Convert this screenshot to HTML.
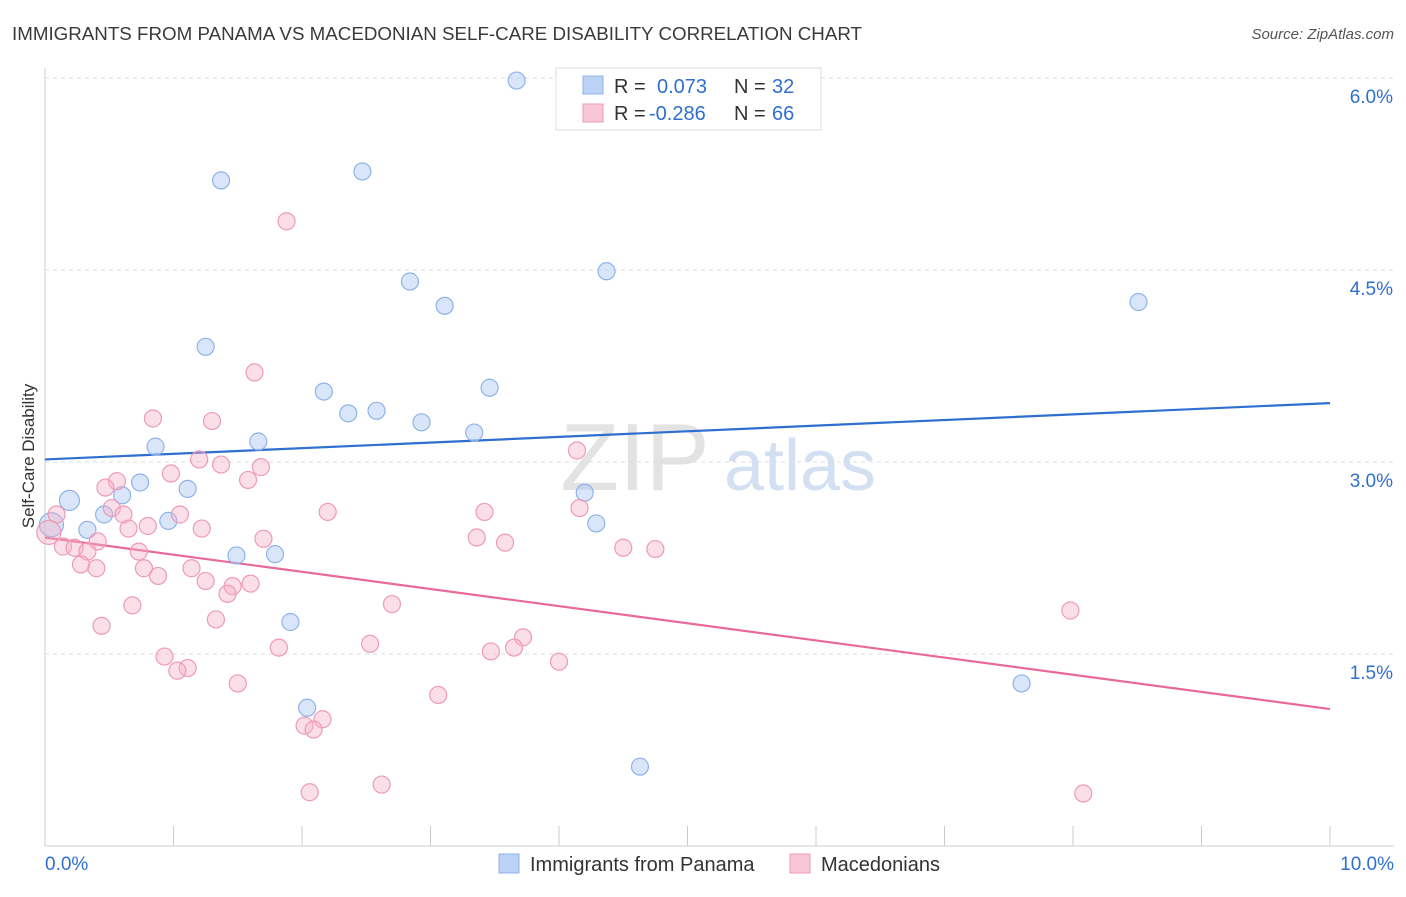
<!DOCTYPE html>
<html><head><meta charset="utf-8"><style>
body{margin:0;background:#fff;font-family:"Liberation Sans",sans-serif}
svg text{font-family:"Liberation Sans",sans-serif}
</style></head><body>
<svg id="c" width="1406" height="892" viewBox="0 0 1406 892">
<text x="12" y="40" font-size="18" fill="#3a3a3a" textLength="850" lengthAdjust="spacingAndGlyphs">IMMIGRANTS FROM PANAMA VS MACEDONIAN SELF-CARE DISABILITY CORRELATION CHART</text>
<text x="1394" y="39" font-size="15" fill="#555" text-anchor="end" font-style="italic">Source: ZipAtlas.com</text>
<g><text x="635" y="490" font-size="96" fill="#ddd" text-anchor="middle" font-family="Liberation Serif" opacity="0.8">ZIP</text><text x="800" y="490" font-size="72" fill="#c9d9f0" text-anchor="middle" opacity="0.8">atlas</text></g>
<text transform="translate(34,456) rotate(-90)" font-size="17" fill="#333" text-anchor="middle">Self-Care Disability</text>
<g id="grid"></g><g id="axes"></g><g id="trend"></g><g id="pts"></g>
<g>
<rect x="556" y="68" width="265" height="62" fill="#fff" stroke="#ddd"/>
<rect x="583" y="76" width="20" height="18" fill="#bcd3f5" stroke="#8fb3e8"/>
<text x="614" y="93" font-size="20" fill="#333">R = <tspan x="657" fill="#2f6fd0">0.073</tspan><tspan x="734">N = </tspan><tspan x="772" fill="#2f6fd0">32</tspan></text>
<rect x="583" y="104" width="20" height="18" fill="#f8c7d6" stroke="#ee9ab8"/>
<text x="614" y="120" font-size="20" fill="#333">R = <tspan x="649" fill="#2f6fd0">-0.286</tspan><tspan x="734">N = </tspan><tspan x="772" fill="#2f6fd0">66</tspan></text>
</g>
<g>
<rect x="499" y="854" width="20" height="19" fill="#bcd3f5" stroke="#8fb3e8"/>
<text x="530" y="871" font-size="20" fill="#333">Immigrants from Panama</text>
<rect x="790" y="854" width="20" height="19" fill="#f8c7d6" stroke="#ee9ab8"/>
<text x="821" y="871" font-size="20" fill="#333">Macedonians</text>
</g>
</svg>
<script>
const yTicks=[1.5,3.0,4.5,6.0];
const yTickLabels=["1.5%","3.0%","4.5%","6.0%"];
const xTicks=[0,1,2,3,4,5,6,7,8,9,10];
const blueX=[3.67,1.37,2.47,2.84,4.37,3.11,8.51,1.25,2.17,3.46,2.36,2.58,2.93,3.34,0.86,1.66,0.74,1.11,0.60,0.19,0.46,0.96,0.33,0.05,4.20,4.29,1.49,1.79,1.91,2.04,7.60,4.63];
const blueY=[5.98,5.20,5.27,4.41,4.49,4.22,4.25,3.90,3.55,3.58,3.38,3.40,3.31,3.23,3.12,3.16,2.84,2.79,2.74,2.70,2.59,2.54,2.47,2.51,2.76,2.52,2.27,2.28,1.75,1.08,1.27,0.62];
const pinkX=[1.88,1.63,0.84,1.30,4.14,1.20,1.37,0.98,1.68,0.56,0.47,1.58,0.52,0.61,1.05,2.20,3.42,4.16,0.09,0.80,0.65,1.22,0.03,1.70,3.36,3.58,0.14,0.23,0.41,0.33,0.73,4.50,4.75,0.28,0.40,0.77,1.14,0.88,1.25,1.46,1.60,1.42,0.68,2.70,7.98,0.44,1.33,3.72,1.82,2.53,3.65,3.47,0.93,4.00,1.11,1.03,1.50,3.06,2.16,2.02,2.09,2.06,2.62,8.08];
const pinkY=[4.88,3.70,3.34,3.32,3.09,3.02,2.98,2.91,2.96,2.85,2.80,2.86,2.64,2.59,2.59,2.61,2.61,2.64,2.59,2.50,2.48,2.48,2.45,2.40,2.41,2.37,2.34,2.33,2.38,2.30,2.30,2.33,2.32,2.20,2.17,2.17,2.17,2.11,2.07,2.03,2.05,1.97,1.88,1.89,1.84,1.72,1.77,1.63,1.55,1.58,1.55,1.52,1.48,1.44,1.39,1.37,1.27,1.18,0.99,0.94,0.91,0.42,0.48,0.41];
const blueTrend=[3.02,3.46];
const pinkTrend=[2.41,1.07];
const X=v=>45+v*128.5, Y=v=>846-v*128;
const NS="http://www.w3.org/2000/svg";
function mk(t,a,p){const e=document.createElementNS(NS,t);for(const k in a)e.setAttribute(k,a[k]);p.appendChild(e);return e;}
const grid=document.getElementById('grid'),axes=document.getElementById('axes'),trend=document.getElementById('trend'),pts=document.getElementById('pts');
yTicks.forEach((v,i)=>{
 const l=mk('line',{x1:45,x2:1394,y1:Y(v),y2:Y(v),stroke:'#ddd','stroke-dasharray':'4,4'},grid);
 
 
 const t=mk('text',{x:1393,y:Y(v)+25,'font-size':19,fill:'#2f6fd0','text-anchor':'end'},axes);
 t.textContent=yTickLabels[i];
 
 
});
const ya=mk('line',{x1:45,x2:45,y1:68,y2:846,stroke:'#ccc'},axes);


const xa=mk('line',{x1:45,x2:1394,y1:846,y2:846,stroke:'#ccc'},axes);


xTicks.forEach(v=>{
 const l=mk('line',{x1:X(v),x2:X(v),y1:826,y2:846,stroke:'#ccc'},axes);
 
 
});
const x0=mk('text',{x:45,y:870,'font-size':19,fill:'#2f6fd0'},axes);x0.textContent='0.0%';


const x1=mk('text',{x:1394,y:870,'font-size':19,fill:'#2f6fd0','text-anchor':'end'},axes);x1.textContent='10.0%';


blueX.forEach((v,i)=>{
 const c=mk('circle',{cx:X(v),cy:Y(blueY[i]),r:i==23?12:(i==19?10:8.5),fill:'rgba(170,200,242,0.45)',stroke:'#8fb3e8','stroke-width':1.2},pts);
 
 
});
pinkX.forEach((v,i)=>{
 const c=mk('circle',{cx:X(v),cy:Y(pinkY[i]),r:i==22?12:8.5,fill:'rgba(246,175,198,0.4)',stroke:'#ee9ab8','stroke-width':1.2},pts);
 
 
});
const bt=mk('line',{x1:X(0),y1:Y(blueTrend[0]),x2:X(10),y2:Y(blueTrend[1]),stroke:'#2f6fd0','stroke-width':2.2},trend);


const pt=mk('line',{x1:X(0),y1:Y(pinkTrend[0]),x2:X(10),y2:Y(pinkTrend[1]),stroke:'#e8699a','stroke-width':2.2},trend);


</script>
</body></html>
